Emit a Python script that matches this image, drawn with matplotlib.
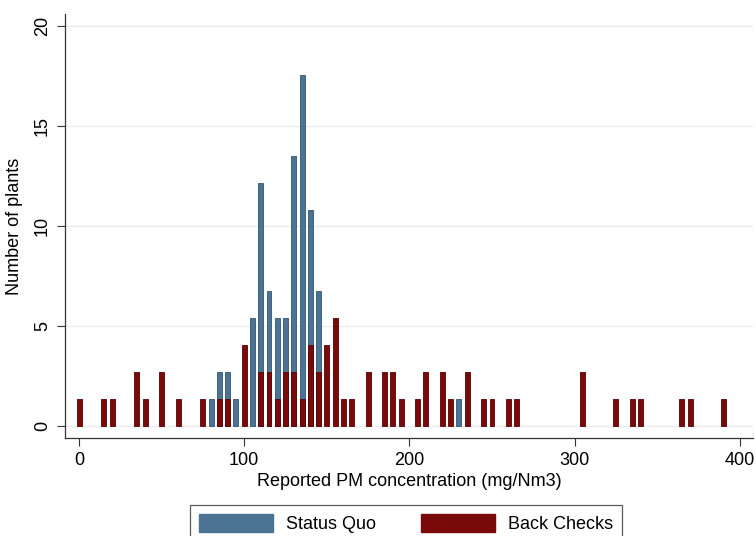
import matplotlib
matplotlib.use("Agg")
import matplotlib.pyplot as plt
from matplotlib.patches import Patch

plt.rcParams['font.family'] = ['Liberation Sans', 'DejaVu Sans']

# Status Quo bins (center, value)
sq_x = [80, 85, 90, 95, 105, 110, 115, 120, 125, 130, 135, 140, 145, 230]
sq_y = [1.35, 2.70, 2.70, 1.35, 5.40, 12.16, 6.76, 5.40, 5.40, 13.51, 17.57, 10.81, 6.76, 1.35]

# Back Checks bins
bc_x = [0, 15, 20, 35, 40, 50, 60, 75, 85, 90, 100, 110, 115, 120, 125, 130, 135,
        140, 145, 150, 155, 160, 165, 175, 185, 190, 195, 205, 210, 220, 225, 235,
        245, 250, 260, 265, 305, 325, 335, 340, 365, 370, 390]
bc_y = [1.35, 1.35, 1.35, 2.70, 1.35, 2.70, 1.35, 1.35, 1.35, 1.35, 4.05, 2.70, 2.70,
        1.35, 2.70, 2.70, 1.35, 4.05, 2.70, 4.05, 5.40, 1.35, 1.35, 2.70, 2.70, 2.70,
        1.35, 1.35, 2.70, 2.70, 1.35, 2.70, 1.35, 1.35, 1.35, 1.35, 2.70, 1.35, 1.35,
        1.35, 1.35, 1.35, 1.35]

y_ticks = [0, 5, 10, 15, 20]
x_ticks = [0, 100, 200, 300, 400]

blue = '#4a7394'
blue_edge = '#2f5673'
red = '#7a0a0a'
red_edge = '#5a0000'

fig = plt.figure(figsize=(7.56, 5.36), dpi=100)
ax = fig.add_axes([65/756, 1-438/536, (753-65)/756, (438-14)/536])

ax.bar(sq_x, sq_y, width=3.0, color=blue, edgecolor=blue_edge, linewidth=0.6, zorder=2)
ax.bar(bc_x, bc_y, width=3.0, color=red, edgecolor=red_edge, linewidth=0.6, zorder=3)

ax.set_xlim(-8.5, 408)
ax.set_ylim(-0.6, 20.6)
ax.set_yticks(y_ticks)
ax.set_xticks(x_ticks)
ax.set_yticklabels([str(v) for v in y_ticks], rotation=90, va='center')
ax.tick_params(axis='both', direction='out', length=6, width=0.8, color='#333333',
               labelsize=13, pad=4)
for v in y_ticks:
    ax.axhline(v, color='#ececec', linewidth=1.0, zorder=0)

for s in ['top', 'right']:
    ax.spines[s].set_visible(False)
for s in ['left', 'bottom']:
    ax.spines[s].set_color('#333333')
    ax.spines[s].set_linewidth(0.9)

ax.set_xlabel('Reported PM concentration (mg/Nm3)', fontsize=13, labelpad=3)
ax.set_ylabel('Number of plants', fontsize=13, labelpad=8)

handles = [Patch(facecolor=blue, edgecolor=blue, label='Status Quo'),
           Patch(facecolor=red, edgecolor=red, label='Back Checks')]
leg = fig.legend(handles=handles, loc='upper center', bbox_to_anchor=(406/756, 1-505/536),
                 ncol=2, fontsize=13, frameon=True, fancybox=False, edgecolor='#333333',
                 handlelength=4.1, handleheight=1.15, columnspacing=2.5, handletextpad=0.7,
                 borderpad=0.5, borderaxespad=0.0)
leg.get_frame().set_linewidth(0.9)

fig.savefig('out.png', dpi=100)
